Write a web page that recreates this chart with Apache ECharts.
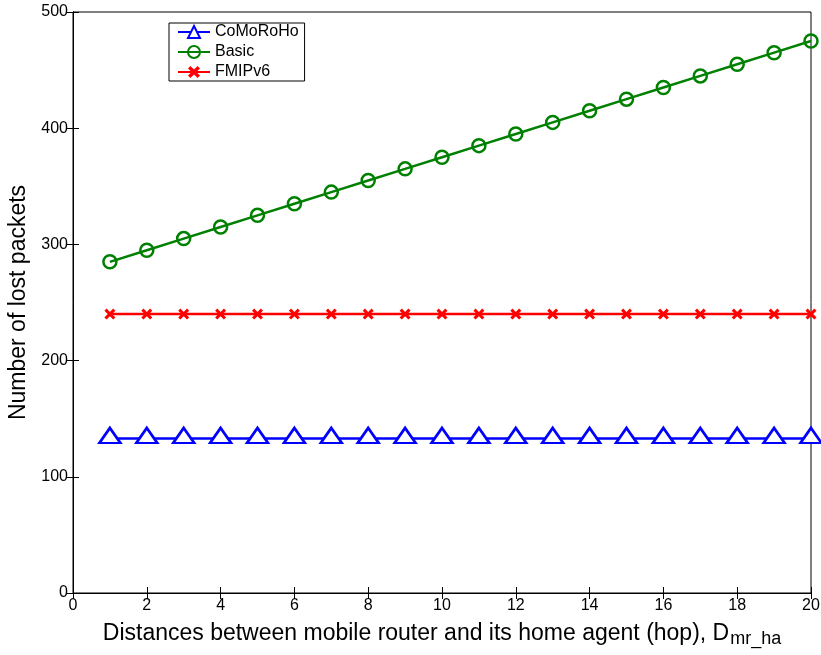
<!DOCTYPE html>
<html>
<head>
<meta charset="utf-8">
<script src="https://cdn.jsdelivr.net/npm/echarts@6/dist/echarts.min.js"></script>
<style>
  html, body { margin: 0; padding: 0; background: #fff; }
  #chart { width: 821px; height: 655px; }
</style>
</head>
<body>
<div id="chart"></div>
<script>
// Hop distance between mobile router and home agent
var hops = [1, 2, 3, 4, 5, 6, 7, 8, 9, 10, 11, 12, 13, 14, 15, 16, 17, 18, 19, 20];
// Number of lost packets per scheme
var comoroho = [133, 133, 133, 133, 133, 133, 133, 133, 133, 133, 133, 133, 133, 133, 133, 133, 133, 133, 133, 133];
var basic = [285, 295, 305, 315, 325, 335, 345, 355, 365, 375, 385, 395, 405, 415, 425, 435, 445, 455, 465, 475];
var fmipv6 = [240, 240, 240, 240, 240, 240, 240, 240, 240, 240, 240, 240, 240, 240, 240, 240, 240, 240, 240, 240];
var seriesNames = ['CoMoRoHo', 'Basic', 'FMIPv6'];

function pairs(xs, ys) { return xs.map(function (x, i) { return [x, ys[i]]; }); }

var font = '"Liberation Sans", Arial, sans-serif';
var crossPath = 'path://M0,2 L2,0 L5,3 L8,0 L10,2 L7,5 L10,8 L8,10 L5,7 L2,10 L0,8 L3,5 Z';

var chart = echarts.init(document.getElementById('chart'), null, { renderer: 'canvas' });

var tickCommon = { show: true, inside: true, length: 6, lineStyle: { color: '#000', width: 1 } };

chart.setOption({
  animation: false,
  backgroundColor: '#fff',
  grid: {
    left: 73, right: 10, top: 12, bottom: 62,
    containLabel: false, outerBoundsMode: 'none',
    show: true, borderColor: '#000', borderWidth: 1
  },
  legend: {
    left: 169, top: 23,
    orient: 'vertical',
    data: seriesNames,
    itemWidth: 32, itemHeight: 15, itemGap: 4,
    padding: [1, 6, 1, 8],
    borderColor: '#000', borderWidth: 1, backgroundColor: '#fff',
    textStyle: { fontFamily: font, fontSize: 16, lineHeight: 16, color: '#000' }
  },
  xAxis: [{
    type: 'value', min: 0, max: 20, interval: 2,
    axisLine: { show: true, lineStyle: { color: '#000', width: 1 } },
    axisTick: tickCommon,
    splitLine: { show: false },
    axisLabel: { color: '#000', fontFamily: font, fontSize: 16, margin: 5 },
    name: '{m|Distances between mobile router and its home agent (hop), D}{s|mr_ha}',
    nameLocation: 'middle', nameGap: 27,
    nameTextStyle: {
      rich: {
        m: { fontFamily: font, fontSize: 23, color: '#000' },
        s: { fontFamily: font, fontSize: 18, color: '#000', verticalAlign: 'bottom', padding: [10, 0, 0, 1] }
      }
    }
  }, {
    type: 'value', min: 0, max: 20, interval: 2, position: 'top',
    axisLine: { show: true, lineStyle: { color: '#000' } },
    axisTick: tickCommon, axisLabel: { show: false }, splitLine: { show: false }
  }],
  yAxis: [{
    type: 'value', min: 0, max: 500, interval: 100,
    axisLine: { show: true, lineStyle: { color: '#000', width: 1 } },
    axisTick: tickCommon,
    splitLine: { show: false },
    axisLabel: { color: '#000', fontFamily: font, fontSize: 16, margin: 5 },
    name: 'Number of lost packets',
    nameLocation: 'middle', nameGap: 37, nameRotate: 90,
    nameTextStyle: { fontFamily: font, fontSize: 23, color: '#000' }
  }, {
    type: 'value', min: 0, max: 500, interval: 100, position: 'right',
    axisLine: { show: true, lineStyle: { color: '#000' } },
    axisTick: tickCommon, axisLabel: { show: false }, splitLine: { show: false }
  }],
  series: [{
    name: seriesNames[0], type: 'line', data: pairs(hops, comoroho),
    symbol: 'triangle', symbolSize: [21, 15], symbolOffset: [0, -3],
    lineStyle: { color: '#0000ff', width: 2.5 },
    itemStyle: { color: '#fff', borderColor: '#0000ff', borderWidth: 2.5 },
    z: 3
  }, {
    name: seriesNames[1], type: 'line', data: pairs(hops, basic),
    symbol: 'circle', symbolSize: 13,
    lineStyle: { color: '#008000', width: 2.5 },
    itemStyle: { color: 'rgba(255,255,255,0)', borderColor: '#008000', borderWidth: 2.5 },
    z: 3
  }, {
    name: seriesNames[2], type: 'line', data: pairs(hops, fmipv6),
    symbol: crossPath, symbolSize: 11,
    lineStyle: { color: '#ff0000', width: 2.5 },
    itemStyle: { color: '#ff0000', borderWidth: 0 },
    z: 3
  }]
});
</script>
</body>
</html>
